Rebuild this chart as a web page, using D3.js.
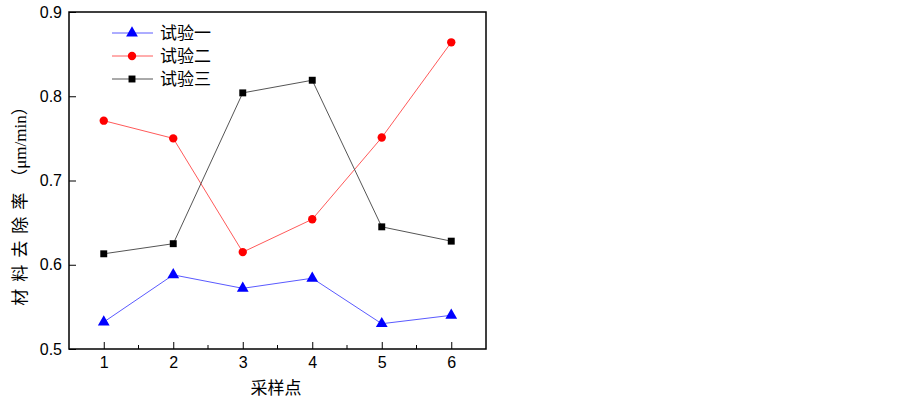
<!DOCTYPE html>
<html>
<head>
<meta charset="utf-8">
<script src="https://cdnjs.cloudflare.com/ajax/libs/d3/7.8.5/d3.min.js"></script>
<style>
  body { margin: 0; background: #fff; }
  svg { display: block; }
  .tick text { font-family: "Liberation Sans", Arial, sans-serif; font-size: 16px; fill: #000; }
  .cjk { font-family: "Liberation Serif", "Noto Sans CJK SC", serif; fill: #000; }
</style>
</head>
<body>
<div id="chart"></div>
<script>
const width = 903, height = 401;
const plotLeft = 69, plotRight = 486, plotTop = 12, plotBottom = 349;

// data
const samplePoints = [1, 2, 3, 4, 5, 6];
const trial1 = [0.532, 0.588, 0.572, 0.584, 0.530, 0.540];
const trial2 = [0.771, 0.750, 0.615, 0.654, 0.751, 0.864];
const trial3 = [0.613, 0.625, 0.804, 0.819, 0.645, 0.628];
const seriesNames = ["试验一", "试验二", "试验三"];
const yTicks = [0.5, 0.6, 0.7, 0.8, 0.9];

const series = [
  {name: seriesNames[0], values: trial1, color: "#5a5aff", fill: "#0000ff", shape: d3.symbolTriangle, size: 60},
  {name: seriesNames[1], values: trial2, color: "#ff5a5a", fill: "#ff0000", shape: d3.symbolCircle, size: 55},
  {name: seriesNames[2], values: trial3, color: "#555", fill: "#000", shape: d3.symbolSquare, size: 48}
];

let svg = d3.select("#chart").
append("svg").
attr("width", width).
attr("height", height);

const xScale = d3.scaleLinear().domain([0.5, 6.5]).range([plotLeft, plotRight]);
const yScale = d3.scaleLinear().domain([0.5, 0.9]).range([plotBottom, plotTop]);

// x axis: inward ticks, minor at halves
const xAxis = d3.axisBottom(xScale).tickValues(samplePoints).tickFormat(d3.format("d")).
tickSizeInner(-7).tickSizeOuter(0).tickPadding(8);
let gx = svg.append("g").attr("transform", "translate(0," + plotBottom + ")").call(xAxis);
gx.select(".domain").remove();
gx.selectAll(".tick line").attr("stroke", "#000");
gx.selectAll(".minor").
data([1.5, 2.5, 3.5, 4.5, 5.5]).
enter().
append("line").
attr("class", "minor").
attr("x1", d => xScale(d)).attr("x2", d => xScale(d)).
attr("y1", 0).attr("y2", -4).
attr("stroke", "#000");

const yAxis = d3.axisLeft(yScale).tickValues(yTicks).tickFormat(d3.format(".1f")).
tickSizeInner(-7).tickSizeOuter(0).tickPadding(7);
let gy = svg.append("g").attr("transform", "translate(" + plotLeft + ",0)").call(yAxis);
gy.select(".domain").remove();
gy.selectAll(".tick line").attr("stroke", "#000");

// frame
svg.append("rect").
attr("x", plotLeft).attr("y", plotTop).
attr("width", plotRight - plotLeft).attr("height", plotBottom - plotTop).
attr("fill", "none").attr("stroke", "#000").attr("stroke-width", 1.5);

const line = d3.line().x((d, i) => xScale(samplePoints[i])).y(d => yScale(d));

series.forEach(s => {
  svg.append("path").
  datum(s.values).
  attr("d", line).
  attr("fill", "none").
  attr("stroke", s.color).
  attr("stroke-width", 1);

  svg.selectAll(null).
  data(s.values).
  enter().
  append("path").
  attr("d", d3.symbol().type(s.shape).size(s.size)).
  attr("transform", (d, i) => "translate(" + xScale(samplePoints[i]) + "," + yScale(d) + ")").
  attr("fill", s.fill);
});

// legend
const legendY = d3.scalePoint().domain(seriesNames).range([33, 79]);
let legend = svg.selectAll(".legend").
data(series).
enter().
append("g").
attr("class", "legend").
attr("transform", d => "translate(112," + legendY(d.name) + ")");
legend.append("line").
attr("x1", 0).attr("x2", 41).
attr("stroke", d => d.color).attr("stroke-width", 1);
legend.append("path").
attr("d", d => d3.symbol().type(d.shape).size(d.size)()).
attr("transform", "translate(20,0)").
attr("fill", d => d.fill);
legend.append("text").
attr("class", "cjk").
attr("x", 48).attr("y", 6).
style("font-size", "17px").
text(d => d.name);

// axis titles
svg.append("text").
attr("class", "cjk").
attr("x", 276).attr("y", 394).
attr("text-anchor", "middle").
style("font-size", "17px").
text("采样点");

let yt = svg.append("text").
attr("class", "cjk").
attr("transform", "translate(26,202) rotate(-90)").
attr("text-anchor", "middle").
style("font-size", "17px");
yt.append("tspan").style("letter-spacing", "7px").text("材料去除率");
yt.append("tspan").text("（μm/min）");
</script>
</body>
</html>
